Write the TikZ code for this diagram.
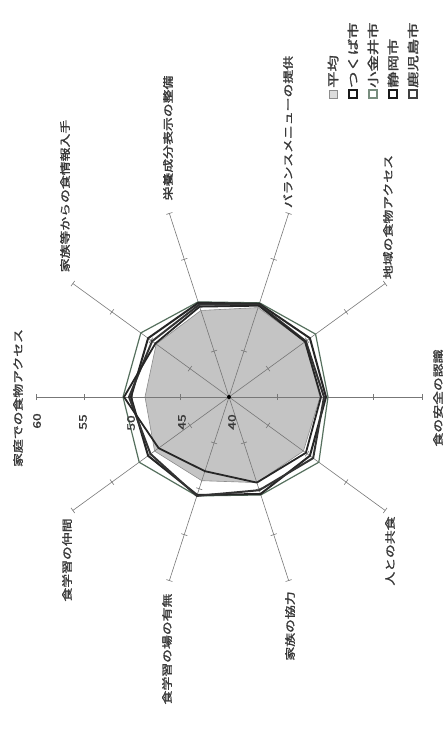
\documentclass[tikz,border=0pt]{standalone}
\usepackage{graphicx}
\usepackage{fontspec}
\setmainfont{Noto Sans CJK JP}
\newfontfamily\jpreg{Noto Sans CJK JP}[FakeBold=1.5]
\usetikzlibrary{calc}
\newcommand\stretchtxt[1]{\scalebox{1.32}[1]{#1}}
\newcommand\stretchleg[1]{\scalebox{1.42}[1]{#1}}
\definecolor{inkgray}{HTML}{383838}
\definecolor{axisgray}{HTML}{777777}
\definecolor{avgfill}{HTML}{C4C4C4}
\definecolor{koganei}{HTML}{56705E}
\begin{document}
\begin{tikzpicture}[x=1pt,y=1pt,
  axisline/.style={draw=axisgray, line width=0.6pt},
  axlabel/.style={rotate=90, font=\jpreg\fontsize{10.5}{12}\selectfont, text=inkgray, inner sep=0pt},
  scalelabel/.style={rotate=90, font=\jpreg\fontsize{10.5}{12}\selectfont, text=inkgray, inner sep=0pt},
  leglabel/.style={rotate=90, anchor=west, font=\jpreg\fontsize{11.5}{13}\selectfont, text=inkgray, inner sep=0pt},
  legbox/.style={minimum size=8pt, inner sep=0pt, fill=white},
  avgpoly/.style={fill=avgfill, draw=black!45, line width=0.6pt},
  tsukuba/.style={draw=black!85, line width=2pt, line join=round},
  shizuoka/.style={draw=black!80, line width=2pt, line join=round},
  kagoshima/.style={draw=black!85, line width=1.8pt, line join=round},
  koganeipoly/.style={draw=koganei, line width=1.2pt, line join=round}
]
\useasboundingbox (0,0) rectangle (447,749);

\begin{scope}[shift={(229,352)}]
  \coordinate (C) at (0,0);
  % average (filled)
  \path[avgpoly] (180:84) -- (144:90) -- (108:91) -- (72:94) -- (36:94) -- (0:91)
     -- (-36:92) -- (-72:90) -- (-108:88) -- (-144:92) -- cycle;
  % axes and ticks
  \foreach \i in {0,...,9}{
    \pgfmathsetmacro\ang{180-36*\i}
    \coordinate (e\i) at (\ang:193);
    \draw[axisline] (C) -- (e\i);
    \foreach \r in {48.25,96.5,144.75,193}{
      \draw[axisline] ($(\ang:\r)+(\ang+90:3.2)$) -- ($(\ang:\r)+(\ang-90:3.2)$);
    }
  }
  % series outlines
  \draw[koganeipoly] (180:106) -- (144:109) -- (108:100) -- (72:99) -- (36:107) -- (0:99)
     -- (-36:111) -- (-72:103) -- (-108:104) -- (-144:111) -- cycle;
  \draw[tsukuba] (180:98) -- (144:100) -- (108:99) -- (72:98) -- (36:100) -- (0:97)
     -- (-36:100) -- (-72:102) -- (-108:103) -- (-144:100) -- cycle;
  \draw[shizuoka] (180:100) -- (144:95) -- (108:97) -- (72:97) -- (36:95) -- (0:95)
     -- (-36:104) -- (-72:98) -- (-108:104) -- (-144:97) -- cycle;
  \draw[kagoshima] (180:105) -- (144:91) -- (108:95) -- (72:96) -- (36:94) -- (0:92)
     -- (-36:95) -- (-72:90) -- (-108:78) -- (-144:87) -- cycle;
  \fill[black] (C) circle (2);
\end{scope}

% axis labels
\node[axlabel] (l0) at (18,351) {\stretchtxt{家庭での食物アクセス}};
\node[axlabel] (l1) at (65,553) {\stretchtxt{家族等からの食情報入手}};
\node[axlabel] (l2) at (168,611) {\stretchtxt{栄養成分表示の整備}};
\node[axlabel] (l3) at (288,617) {\stretchtxt{バランスメニューの提供}};
\node[axlabel] (l4) at (388,532) {\stretchtxt{地域の食物アクセス}};
\node[axlabel] (l5) at (438,351) {\stretchtxt{食の安全の認識}};
\node[axlabel] (l6) at (390,198) {\stretchtxt{人との共食}};
\node[axlabel] (l7) at (290,123) {\stretchtxt{家族の協力}};
\node[axlabel] (l8) at (167,100) {\stretchtxt{食学習の場の有無}};
\node[axlabel] (l9) at (67,189) {\stretchtxt{食学習の仲間}};

% scale labels
\node[scalelabel] (s60) at (37,328) {\stretchtxt{60}};
\node[scalelabel] (s55) at (83,327) {\stretchtxt{55}};
\node[scalelabel] (s50) at (131,326) {\stretchtxt{50}};
\node[scalelabel] (s45) at (182,327) {\stretchtxt{45}};
\node[scalelabel] (s40) at (232,327) {\stretchtxt{40}};

% legend
\node[legbox, draw=black!45, fill=avgfill!60, line width=0.8pt] (b0) at (333,655) {};
\node[legbox, draw=black!90, line width=1.8pt] (b1) at (353,655) {};
\node[legbox, draw=koganei!80, line width=1.3pt] (b2) at (373,655) {};
\node[legbox, draw=black!90, line width=1.8pt] (b3) at (393,655) {};
\node[legbox, draw=black!75, line width=1.4pt] (b4) at (413,655) {};
\node[leglabel] (t0) at (333,661) {\stretchleg{平均}};
\node[leglabel] (t1) at (353,661) {\stretchleg{つくば市}};
\node[leglabel] (t2) at (373,661) {\stretchleg{小金井市}};
\node[leglabel] (t3) at (393,661) {\stretchleg{静岡市}};
\node[leglabel] (t4) at (413,661) {\stretchleg{鹿児島市}};
\end{tikzpicture}
\end{document}
